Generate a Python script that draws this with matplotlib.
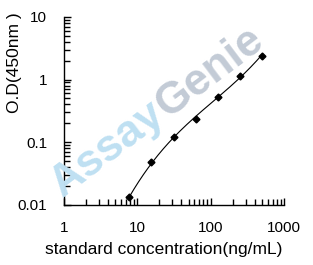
import numpy as np
import matplotlib
matplotlib.use("Agg")
import matplotlib.pyplot as plt
from matplotlib.ticker import LogLocator, NullFormatter, FixedLocator, FixedFormatter

# standard curve data
conc = [7.8, 15.6, 31.25, 62.5, 125, 250, 500]
od = [0.013, 0.048, 0.12, 0.235, 0.52, 1.13, 2.4]

x_ticks = [1, 10, 100, 1000]
x_tick_labels = ["1", "10", "100", "1000"]
y_ticks = [0.01, 0.1, 1, 10]
y_tick_labels = ["0.01", "0.1", "1", "10"]

plt.rcParams['font.family'] = ['Liberation Sans', 'DejaVu Sans']

fig = plt.figure(figsize=(3.13, 2.65), dpi=100)
ax = fig.add_axes([0.2045, 0.228, 0.7025, 0.708])

# watermark
wm_angle = 37
wm_size = 32
x0, y0 = 62 / 313, 1 - 198 / 265
tmp = fig.text(0, 0, "Assay", fontsize=wm_size, fontweight='bold')
fig.canvas.draw()
w = tmp.get_window_extent().width
tmp.remove()
fig.text(x0, y0, "Assay", fontsize=wm_size, fontweight='bold', color='#bfe0f2',
         rotation=wm_angle, rotation_mode='anchor', ha='left', va='baseline', zorder=0)
x1 = x0 + w * np.cos(np.radians(wm_angle)) / 313
y1 = y0 + w * np.sin(np.radians(wm_angle)) / 265
fig.text(x1, y1, "Genie", fontsize=wm_size, fontweight='bold', color='#c3cbd6',
         rotation=wm_angle, rotation_mode='anchor', ha='left', va='baseline', zorder=0)
ax.patch.set_alpha(0)

# fitted curve (cubic in log-log space)
lx = np.log10(conc)
ly = np.log10(od)
coef = np.polyfit(lx, ly, 3)
xs = np.linspace(lx[0], lx[-1], 200)
ax.plot(10 ** xs, 10 ** np.polyval(coef, xs), color='black', lw=0.8)
ax.plot(conc, od, linestyle='none', marker='D', markersize=3.5, color='black')

ax.set_xscale('log')
ax.set_yscale('log')
ax.set_xlim(1, 1000)
ax.set_ylim(0.01, 10)
ax.xaxis.set_major_locator(FixedLocator(x_ticks))
ax.xaxis.set_major_formatter(FixedFormatter(x_tick_labels))
ax.yaxis.set_major_locator(FixedLocator(y_ticks))
ax.yaxis.set_major_formatter(FixedFormatter(y_tick_labels))
ax.xaxis.set_minor_locator(LogLocator(base=10, subs=np.arange(2, 10)))
ax.yaxis.set_minor_locator(LogLocator(base=10, subs=np.arange(2, 10)))
ax.xaxis.set_minor_formatter(NullFormatter())
ax.yaxis.set_minor_formatter(NullFormatter())

for s in ['top', 'right']:
    ax.spines[s].set_visible(False)
for s in ['left', 'bottom']:
    ax.spines[s].set_linewidth(1.0)
ax.tick_params(which='major', direction='in', length=5, width=1, labelsize=11, pad=12)
ax.tick_params(which='minor', direction='in', length=4, width=1)

ax.set_xlabel("standard concentration(ng/mL)", fontsize=12.5, va='center')
ax.xaxis.set_label_coords(0.455, -0.237)
ax.set_ylabel("O.D(450nm )", fontsize=12.5, va='center')
ax.yaxis.set_label_coords(-0.223, 0.755)

fig.savefig("out.png", dpi=100)
